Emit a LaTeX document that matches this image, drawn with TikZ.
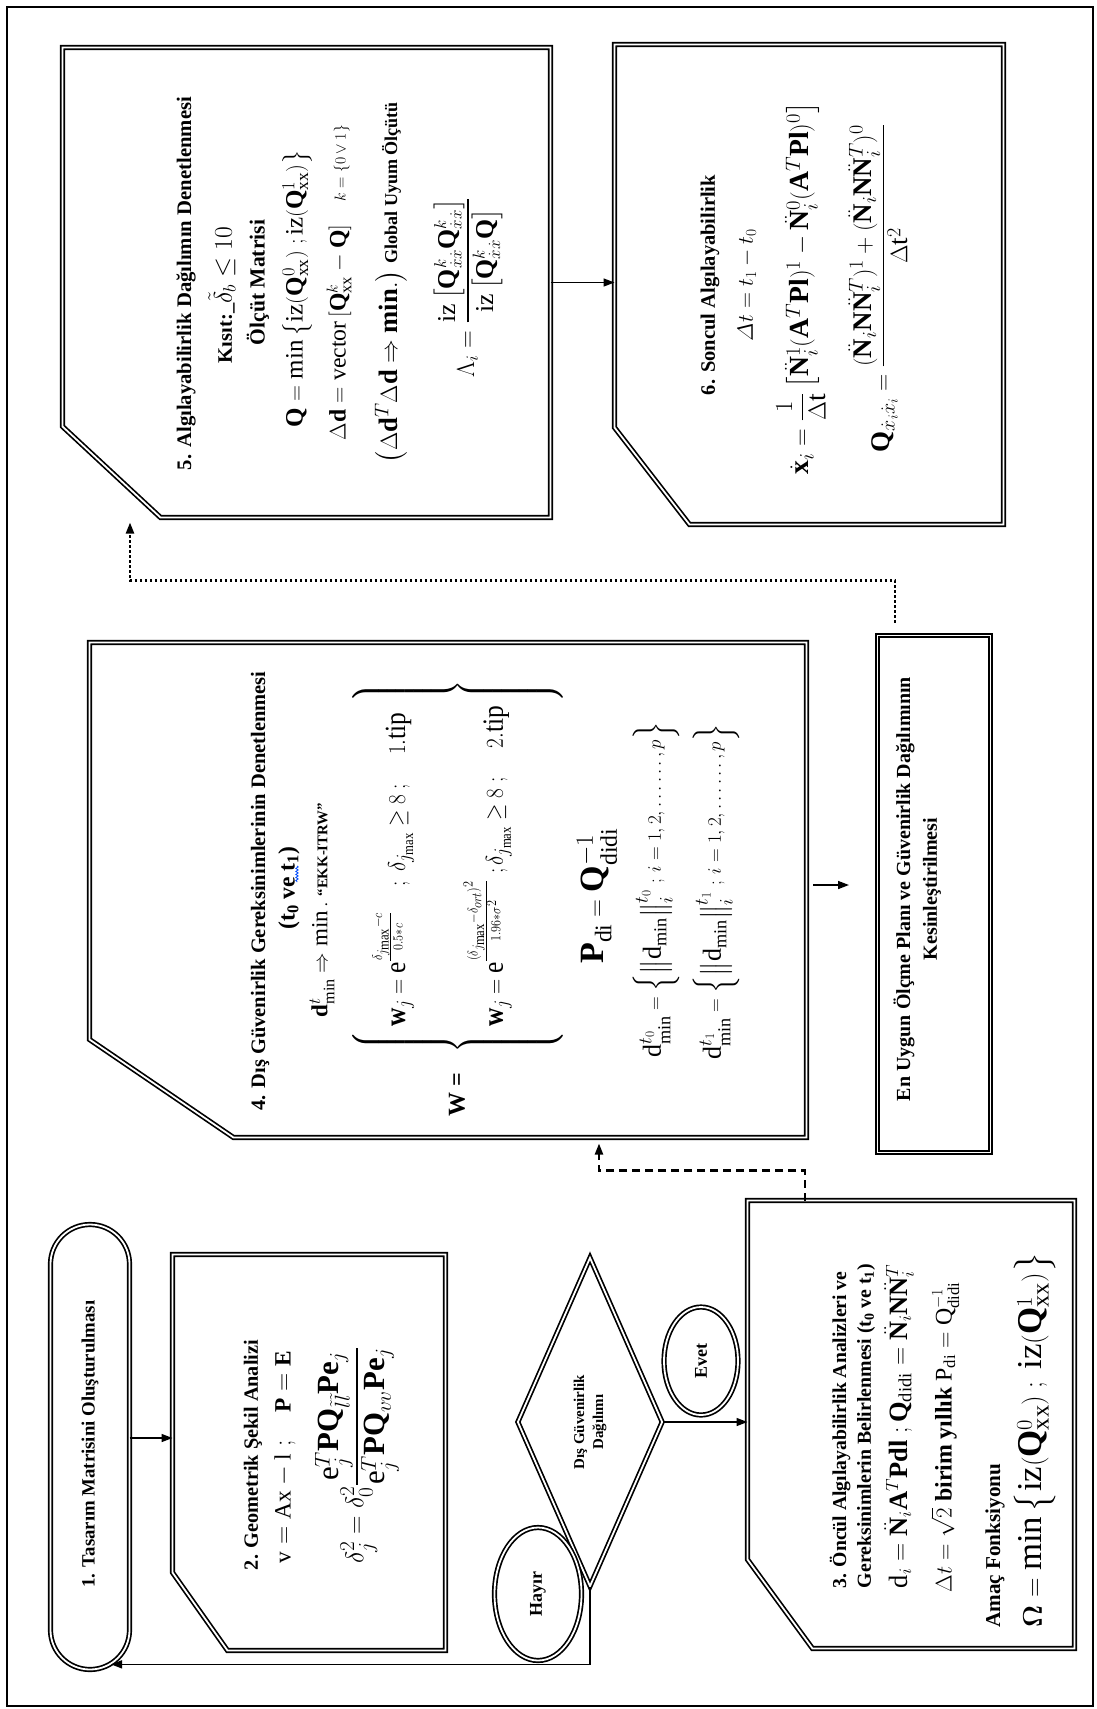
\documentclass[tikz,border=0pt]{standalone}
\usepackage{amsmath,amssymb,graphicx}
\usepackage{fontspec}
\setmainfont{Liberation Serif}
\setmathrm{Liberation Serif}
\usetikzlibrary{arrows.meta,shapes.geometric,decorations.pathmorphing}
\newcommand\fsz[1]{\fontsize{#1}{#1}\selectfont}
\newcommand\fit[2]{\resizebox{#1pt}{!}{#2}}
\newcommand\Nd{\ddot{\mathbf{N}}}
\newcommand\chambox[7]{%
  \node[area, minimum width=#4pt, minimum height=#5pt] (#1) at (#2,#3) {};
  \draw[box] (#1.north west) -- (#1.north east) -- (#1.south east)
    -- ([xshift=#6pt]#1.south west) -- ([yshift=#7pt]#1.south west) -- cycle;}
\tikzset{
  box/.style={draw, line width=1.7pt, double, double distance=1.8pt},
  area/.style={rectangle, draw=none, inner sep=0pt, outer sep=0pt},
  lbl/.style={rotate=90, inner sep=0pt, align=center},
  ttl/.style={lbl, font=\bfseries\fsz{20}},
  arr/.style={-{Triangle[length=11pt,width=8pt]}, line width=1.5pt},
  dsh/.style={arr, line width=2.2pt, dash pattern=on 8pt off 5pt},
  dtt/.style={arr, line width=2.2pt, dash pattern=on 2.4pt off 2.6pt},
}
\begin{document}
\begin{tikzpicture}[x=1pt,y=-1pt]
\useasboundingbox (0,0) rectangle (1096,1709);
\node[area, draw, line width=1.3pt, minimum width=1086pt, minimum height=1699pt] (frame) at (550,856.5) {};

% boxes
\chambox{b5}{306.5}{282.5}{488}{470}{98}{91}
\chambox{b6}{809}{284.5}{389}{480}{75}{97}
\chambox{b4}{448}{890}{717}{495}{144}{98}
\chambox{b3}{911}{1424.5}{327}{448}{65}{89}
\chambox{b2}{309}{1452.5}{273}{396}{55}{78}
\node[area, box, minimum width=113pt, minimum height=517pt] (bEn) at (934,894) {};
\node[area, box, rounded corners=39.5pt, minimum width=79pt, minimum height=445pt] (b1) at (90,1447) {};
\node[box, diamond, inner sep=0pt, minimum width=145pt, minimum height=329pt] (dg) at (590,1422) {};
\node[box, ellipse, inner sep=0pt, minimum width=87pt, minimum height=133pt] (hy) at (538,1594) {};
\node[box, ellipse, inner sep=0pt, minimum width=74pt, minimum height=108pt] (ev) at (701,1361) {};

% connectors
\draw[arr] ([yshift=9pt]b1.east) coordinate (a1) -- (a1 -| b2.west);
\draw[arr] (dg.east) -- (dg.east -| b3.west);
\draw[arr, shorten >=21pt] (dg.south) -- ++(0,77) coordinate (hr) -- (hr -| b1.south);
\draw[dsh, shorten >=6pt] ([xshift=-106pt]b3.north) -- ++(0,-30) -| ([xshift=151pt]b4.south);
\coordinate (a4) at ([yshift=5pt]b4.east);
\draw[arr, shorten <=6.5pt, shorten >=28.5pt] (a4) -- (a4 -| bEn.west);
\draw[dtt, shorten <=13pt, shorten >=5pt] ([xshift=-39pt]bEn.north) -- ++(0,-55) -| ([xshift=-176.5pt]b5.south);
\draw[arr] (b5.east) -- (b5.east -| b6.west);

% texts box 1, 2
\node[ttl] (t1) at (90,1444) {\fit{287}{1. Tasarım Matrisini Oluşturulması}};
\node[ttl] (t2a) at (253,1455) {\fit{230}{2. Geometrik Şekil Analizi}};
\node[lbl, font=\fsz{23}] (t2b) at (285,1457) {\fit{213}{$\mathrm{v}=\mathrm{Ax}-\mathrm{l}\;;\quad\mathbf{P}=\mathbf{E}$}};
\node[lbl, font=\fsz{30}] (t2c) at (357,1455) {\fit{217}{$\delta_j^2=\delta_0^2\dfrac{\mathrm{e}_j^T\mathbf{PQ}_{\tilde l\tilde l}\mathbf{Pe}_j}{\mathrm{e}_j^T\mathbf{PQ}_{vv}\mathbf{Pe}_j}$}};

% decision
\node[lbl, font=\bfseries\fontsize{15}{19}\selectfont] (dgt) at (dg) {Dış Güvenirlik\\Dağılımı};
\node[lbl, font=\bfseries\fsz{18}] (hyt) at (hy) {Hayır};
\node[lbl, font=\bfseries\fsz{18}] (evt) at (ev) {Evet};

% box 3
\node[ttl] (t3a) at (840,1430) {\fit{317}{3. Öncül Algılayabilirlik Analizleri ve}};
\node[ttl] (t3b) at (866,1426) {\fit{324}{Gereksinimlerin Belirlenmesi (t\textsubscript{0} ve t\textsubscript{1})}};
\node[lbl, font=\fsz{26}] (t3c) at (899,1426) {\fit{324}{$\mathrm{d}_i=\Nd_i\mathbf{A}^T\mathbf{Pdl}\;;\mathbf{Q}_{\mathrm{didi}}=\Nd_i\mathbf{N}\Nd_i^T$}};
\node[lbl, font=\fsz{26}] (t3d) at (945,1437) {\fit{310}{$\Delta t=\sqrt{2}$ \textbf{birim yıllık} $\mathrm{P}_{\mathrm{di}}=\mathrm{Q}^{-1}_{\mathrm{didi}}$}};
\node[ttl, anchor=west] (t3e) at (995,1628) {\fit{164}{Amaç Fonksiyonu}};
\node[lbl, font=\fsz{32}] (t3f) at (1035,1440) {\fit{375}{$\boldsymbol{\Omega}=\min\left\{\mathrm{iz}(\mathbf{Q}^0_{\mathrm{xx}})\;;\;\mathrm{iz}(\mathbf{Q}^1_{\mathrm{xx}})\right\}$}};

% box 4
\node[ttl] (t4a) at (260,891) {\fit{439}{4. Dış Güvenirlik Gereksinimlerinin Denetlenmesi}};
\node[ttl] (t4b) at (289,888) {\fit{83}{(t\textsubscript{0} ve t\textsubscript{1})}};
\draw[blue!70!cyan, line width=0.8pt, decorate, decoration={snake, amplitude=1.2pt, segment length=3pt}] (297,866) -- (297,882);
\node[lbl, font=\fsz{28}] (t4c) at (322,910) {\fit{214}{$\mathbf{d}^{t}_{\min}\Rightarrow\min.$ {\bfseries\fsz{18}“EKK-ITRW”}}};
\node[lbl, font=\bfseries\fsz{24}] (t4w) at (457,1095) {W =};
\node[lbl, font=\fsz{30}] (t4d) at (457.5,866.5) {\resizebox*{373pt}{211pt}{$\left\{\begin{array}{@{\,}l@{\,}}
  \rule{0pt}{51pt}\mathbf{w}_j=\mathrm{e}^{\frac{\delta_{j_{\max}}-c}{0.5*c}}\quad;\;\delta_{j_{\max}}\ge 8\;;\quad 1.\mathrm{tip}\\[40pt]
  \rule{0pt}{51pt}\rule[-58pt]{0pt}{58pt}\mathbf{w}_j=\mathrm{e}^{\frac{(\delta_{j_{\max}}-\delta_{ort})^2}{1.96*\sigma^2}}\;;\delta_{j_{\max}}\ge 8\;;\quad 2.\mathrm{tip}
  \end{array}\right\}$}};
\node[lbl, font=\fsz{34}] (t4e) at (597,896) {$\mathbf{P}_{\mathrm{di}}=\mathbf{Q}^{-1}_{\mathrm{didi}}$};
\node[lbl, font=\fsz{34}] (t4f) at (656,890) {\fit{335}{$\mathrm{d}^{t_0}_{\min}=\left\{\left\|\mathrm{d}_{\min}\right\|^{t_0}_{i}\,;\,i=1,2,\ldots\ldots,p\right\}$}};
\node[lbl, font=\fsz{34}] (t4g) at (716,892) {\fit{335}{$\mathrm{d}^{t_1}_{\min}=\left\{\left\|\mathrm{d}_{\min}\right\|^{t_1}_{i}\,;\,i=1,2,\ldots\ldots,p\right\}$}};

% box 5
\node[ttl] (t5a) at (186,283.5) {\fit{373}{5. Algılayabilirlik Dağılımın Denetlenmesi}};
\node[lbl] (t5b) at (222,295) {\fit{136}{{\bfseries\fsz{20}Kısıt:\_}{\fsz{24}$\tilde{\delta}_b\leq 10$}}};
\node[ttl] (t5c) at (258,282.5) {\fit{125}{Ölçüt Matrisi}};
\node[lbl, font=\fsz{28}] (t5d) at (297,288.5) {\fit{277}{$\mathbf{Q}=\min\left\{\mathrm{iz}(\mathbf{Q}^0_{\mathrm{xx}})\;;\mathrm{iz}(\mathbf{Q}^1_{\mathrm{xx}})\right\}$}};
\node[lbl, font=\fsz{26}] (t5e) at (339,282.5) {\fit{315}{$\Delta\mathbf{d}=\mathrm{vector}\,[\mathbf{Q}^k_{\mathrm{xx}}-\mathbf{Q}]$\quad{\fsz{18}$k=\{0\vee1\}$}}};
\node[lbl, font=\fsz{28}] (t5f) at (391,282.5) {\fit{361}{$\left(\Delta\mathbf{d}^T\Delta\mathbf{d}\Rightarrow\mathbf{min.}\right)$ {\bfseries\fsz{19}Global Uyum Ölçütü}}};
\node[lbl, font=\fsz{26}] (t5g) at (468,287.5) {\fit{179}{$\Lambda_i=\dfrac{\mathrm{iz}\left[\mathbf{Q}^k_{\dot x\dot x}\mathbf{Q}^k_{\dot x\dot x}\right]}{\mathrm{iz}\left[\mathbf{Q}^k_{\dot x\dot x}\mathbf{Q}\right]}$}};

% box 6
\node[ttl] (t6a) at (710,285) {\fit{220}{6. Soncul Algılayabilirlik}};
\node[lbl, font=\fsz{26}] (t6b) at (747,285) {\fit{112}{$\varDelta t=t_1-t_0$}};
\node[lbl, font=\fsz{28}] (t6c) at (801,288) {\fit{372}{$\dot{\mathbf{x}}_i=\dfrac{1}{\Delta\mathrm{t}}\left[\Nd^1_i(\mathbf{A}^T\mathbf{Pl})^1-\Nd^0_i(\mathbf{A}^T\mathbf{Pl})^0\right]$}};
\node[lbl, font=\fsz{28}] (t6d) at (878,288) {\fit{328}{$\mathbf{Q}_{\dot{x}_i\dot{x}_i}=\dfrac{(\Nd_i\mathbf{N}\Nd_i^T)^1+(\Nd_i\mathbf{N}\Nd_i^T)^0}{\Delta\mathrm{t}^2}$}};

% final box
\node[ttl] (ten1) at (904,889) {\fit{424}{En Uygun Ölçme Planı ve Güvenirlik Dağılımının}};
\node[ttl] (ten2) at (932,889) {Kesinleştirilmesi};
\end{tikzpicture}
\end{document}
